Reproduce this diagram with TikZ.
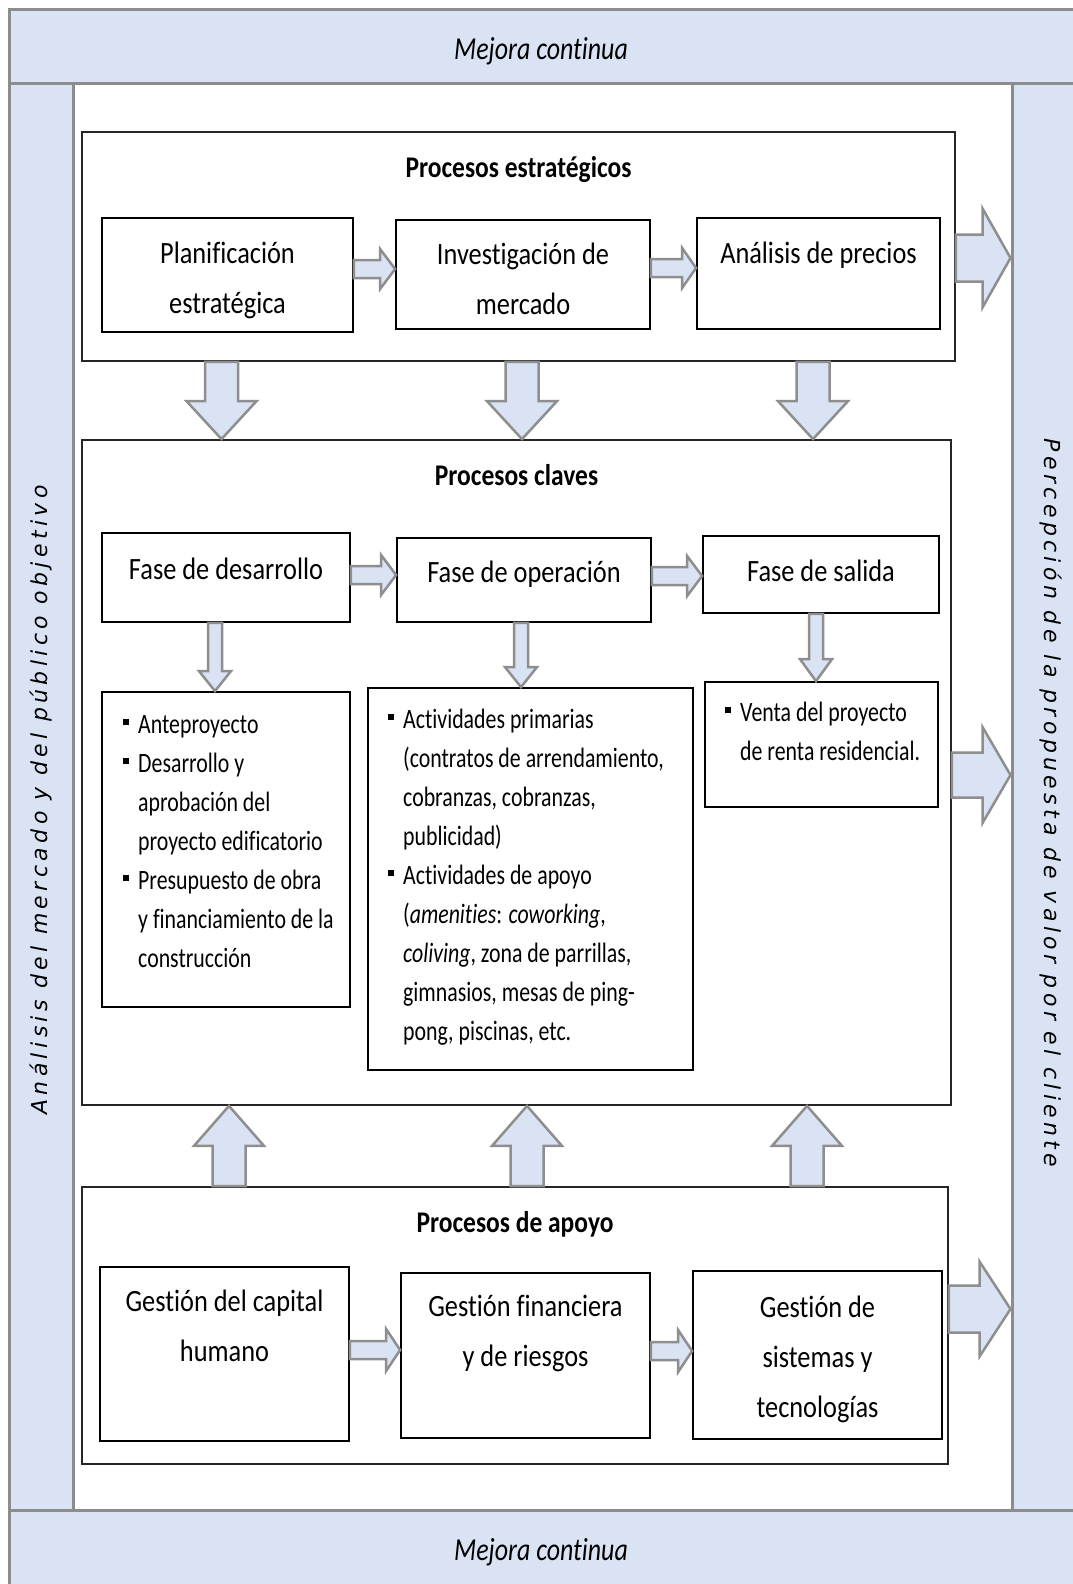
\documentclass[tikz,border=0pt]{standalone}
\usepackage{fontspec}
\setmainfont{Carlito}[Ligatures=NoCommon]
\newfontfamily\boxfont{Carlito}[FakeStretch=0.85, Ligatures=NoCommon]
\newfontfamily\listfont{Carlito}[FakeStretch=0.78, Ligatures=NoCommon]
\newfontfamily\mejfont{Carlito}[FakeStretch=0.81, Ligatures=NoCommon]
\newfontfamily\sidefont{DejaVu Sans Oblique}[LetterSpace=20]
\usetikzlibrary{calc,fit}
\definecolor{bandblue}{HTML}{DAE3F3}
\definecolor{bandgray}{HTML}{8C8C8C}
\definecolor{arrgray}{HTML}{8E8E8E}
\tikzset{
 bandbox/.style={draw=bandgray, line width=3pt, fill=bandblue, inner sep=0pt},
 outerbox/.style={draw=black!85, line width=1.8pt, fill=white, inner sep=0pt},
 pbox/.style={draw=black, line width=1.8pt, fill=white, inner sep=0pt},
 barrow/.style={draw=arrgray, line width=2.5pt, fill=bandblue, line join=miter},
 ttl/.style={font=\boxfont\bfseries\fontsize{30}{36}\selectfont, inner sep=0pt, anchor=base},
 btext/.style={font=\boxfont\fontsize{31}{50}\selectfont, inner sep=0pt, anchor=base},
 ltext/.style={font=\listfont\fontsize{28}{39}\selectfont, inner sep=0pt, anchor=base west},
 mej/.style={font=\mejfont\itshape\fontsize{32}{38}\selectfont, inner sep=0pt, anchor=base},
 sidetxt/.style={font=\sidefont\fontsize{22}{26}\selectfont, inner sep=0pt, anchor=base},
}
\newcommand{\ctext}[1]{\parbox[t]{250pt}{\centering #1}}
\newcommand{\ltx}[1]{\parbox[t]{320pt}{\raggedright #1}}
\newcommand{\bul}{\leavevmode\llap{\rule[8pt]{6pt}{6.5pt}\hspace{9pt}}}
\newcommand{\barrH}[5]{\draw[barrow] let \p1=#1, \p2=#2 in
  (\x1,\y1+#3pt) -- (\x2-#5pt,\y1+#3pt) -- (\x2-#5pt,\y1+#4pt) -- (\x2,\y1)
  -- (\x2-#5pt,\y1-#4pt) -- (\x2-#5pt,\y1-#3pt) -- (\x1,\y1-#3pt) -- cycle;}
\newcommand{\barrD}[5]{\draw[barrow] let \p1=#1, \p2=#2 in
  (\x1-#3pt,\y1) -- (\x1-#3pt,\y2+#5pt) -- (\x1-#4pt,\y2+#5pt) -- (\x1,\y2)
  -- (\x1+#4pt,\y2+#5pt) -- (\x1+#3pt,\y2+#5pt) -- (\x1+#3pt,\y1) -- cycle;}
\newcommand{\barrU}[5]{\draw[barrow] let \p1=#1, \p2=#2 in
  (\x1-#3pt,\y1) -- (\x1-#3pt,\y2-#5pt) -- (\x1-#4pt,\y2-#5pt) -- (\x1,\y2)
  -- (\x1+#4pt,\y2-#5pt) -- (\x1+#3pt,\y2-#5pt) -- (\x1+#3pt,\y1) -- cycle;}
\begin{document}
\begin{tikzpicture}[x=1pt,y=-1pt]
\useasboundingbox (0,0) rectangle (1072,1584);
\fill[white] (0,0) rectangle (1072,1584);
% bands
\node[bandbox, fit={(9,84) (73,1510)}] (lband) {};
\node[bandbox, fit={(1012,84) (1095,1510)}] (rband) {};
\node[bandbox, fit={(9,10) (1095,84)}] (topband) {};
\node[bandbox, fit={(9,1510) (1095,1600)}] (botband) {};
\node[mej] (mejtop) at (541,60) {Mejora continua};
\node[mej] (mejbot) at (541,1560) {Mejora continua};
\node[sidetxt, rotate=90] (ltxt) at (47,800) {Análisis del mercado y del público objetivo};
\node[sidetxt, rotate=-90] (rtxt) at (1044,803) {Percepción de la propuesta de valor por el cliente};
% containers
\node[outerbox, fit={(82,132) (955,361)}] (strat) {};
\node[outerbox, fit={(82,440) (951,1105)}] (key) {};
\node[outerbox, fit={(82,1187) (948,1464)}] (apoyo) {};
\node[ttl] (tstrat) at ([yshift=-46pt]strat.north) {Procesos estratégicos};
\node[ttl] (tkey) at ([yshift=-46pt]key.north) {Procesos claves};
\node[ttl] (tapoyo) at ([yshift=-46pt]apoyo.north) {Procesos de apoyo};
% strategic boxes
\node[pbox, fit={(102,218) (353,332)}] (plan) {};
\node[pbox, fit={(396,220) (650,329)}] (inv) {};
\node[pbox, fit={(697,218) (940,329)}] (ana) {};
\node[btext] (plantx) at ([yshift=-46pt]plan.north) {\ctext{Planificación\\estratégica}};
\node[btext] (invtx) at ([yshift=-45pt]inv.north) {\ctext{Investigación de\\mercado}};
\node[btext] (anatx) at ([yshift=-46pt]ana.north) {\ctext{Análisis de precios}};
% key boxes
\node[pbox, fit={(102,533) (350,622)}] (dev) {};
\node[pbox, fit={(397,538) (651,622)}] (op) {};
\node[pbox, fit={(703,536) (939,613)}] (sal) {};
\node[btext] (devtx) at ([yshift=-47pt]dev.north) {\ctext{Fase de desarrollo}};
\node[btext] (optx) at ([yshift=-45pt]op.north) {\ctext{Fase de operación}};
\node[btext] (saltx) at ([yshift=-46pt]sal.north) {\ctext{Fase de salida}};
\node[pbox, fit={(102,692) (350,1007)}] (lista) {};
\node[pbox, fit={(368,688) (693,1070)}] (listb) {};
\node[pbox, fit={(705,682) (938,807)}] (listc) {};
\node[ltext] (listatx) at (138,733) {\ltx{\bul Anteproyecto\\
 \bul Desarrollo y\\ aprobación del\\ proyecto edificatorio\\
 \bul Presupuesto de obra\\ y financiamiento de la\\ construcción}};
\node[ltext] (listbtx) at (403,728) {\ltx{\bul Actividades primarias\\
 (contratos de arrendamiento,\\ cobranzas, cobranzas,\\ publicidad)\\
 \bul Actividades de apoyo\\ (\textit{amenities}: \textit{coworking},\\
 \textit{coliving}, zona de parrillas,\\ gimnasios, mesas de ping-\\ pong, piscinas, etc.}};
\node[ltext] (listctx) at (740,721) {\ltx{\bul Venta del proyecto\\ de renta residencial.}};
% support boxes
\node[pbox, fit={(100,1267) (349,1441)}] (cap) {};
\node[pbox, fit={(401,1273) (650,1438)}] (fin) {};
\node[pbox, fit={(693,1271) (942,1439)}] (sis) {};
\node[btext] (captx) at ([yshift=-45pt]cap.north) {\ctext{Gestión del capital\\humano}};
\node[btext] (fintx) at ([yshift=-44pt]fin.north) {\ctext{Gestión financiera\\y de riesgos}};
\node[btext] (sistx) at ([yshift=-47pt]sis.north) {\ctext{Gestión de\\sistemas y\\tecnologías}};
% small horizontal arrows
\barrH{(plan.east |- 0,269)}{(inv.west |- 0,269)}{9}{20}{15}
\barrH{(inv.east |- 0,268)}{(ana.west |- 0,268)}{9}{20}{14}
\barrH{(dev.east |- 0,575)}{(op.west |- 0,575)}{9}{20}{15}
\barrH{(op.east |- 0,576)}{(sal.west |- 0,576)}{9}{20}{15}
\barrH{(cap.east |- 0,1350)}{(fin.west |- 0,1350)}{9}{21}{14}
\barrH{(fin.east |- 0,1351)}{(sis.west |- 0,1351)}{9}{21}{14}
% small down arrows
\barrD{(dev.south -| 215,0)}{(lista.north -| 215,0)}{7}{16}{20}
\barrD{(op.south -| 521,0)}{(listb.north -| 521,0)}{7}{16}{20}
\barrD{(sal.south -| 816,0)}{(listc.north -| 816,0)}{7}{16}{22}
% big down arrows
\barrD{(strat.south -| 221.5,0)}{(key.north -| 221.5,0)}{16.5}{35}{38}
\barrD{(strat.south -| 522,0)}{(key.north -| 522,0)}{16.5}{35}{38}
\barrD{(strat.south -| 813,0)}{(key.north -| 813,0)}{16.5}{35}{38}
% big up arrows
\barrU{(apoyo.north -| 229,0)}{(key.south -| 229,0)}{16.5}{35}{40}
\barrU{(apoyo.north -| 527,0)}{(key.south -| 527,0)}{16.5}{35}{40}
\barrU{(apoyo.north -| 807,0)}{(key.south -| 807,0)}{16.5}{35}{40}
% big right arrows
\barrH{(strat.east |- 0,258)}{(rband.west |- 0,258)}{23.5}{49.5}{28}
\barrH{(key.east |- 0,775)}{(rband.west |- 0,775)}{22.5}{48}{28}
\barrH{(apoyo.east |- 0,1309)}{(rband.west |- 0,1309)}{23.5}{47.5}{31}
\end{tikzpicture}
\end{document}
